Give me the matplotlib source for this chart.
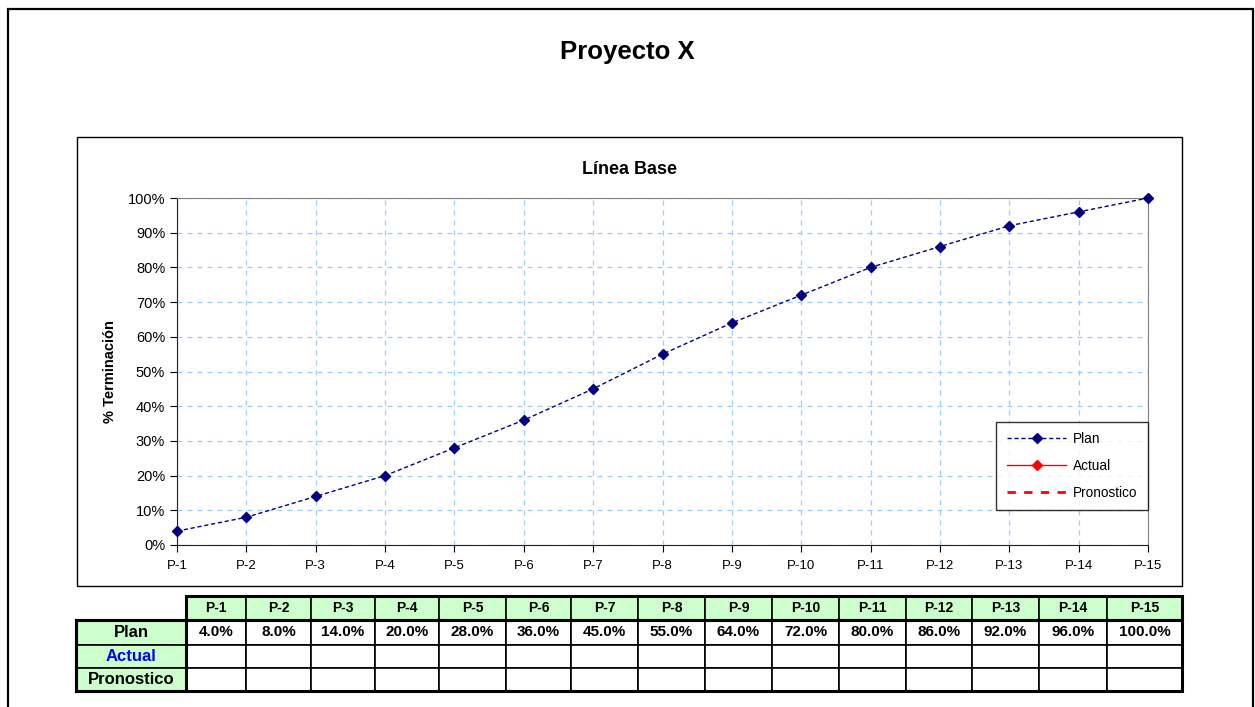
import matplotlib.pyplot as plt
from matplotlib.patches import Rectangle
from matplotlib.lines import Line2D
import matplotlib.ticker as mticker

plt.rcParams['font.family'] = ['Liberation Sans', 'DejaVu Sans']

periods = ["P-1", "P-2", "P-3", "P-4", "P-5", "P-6", "P-7", "P-8",
           "P-9", "P-10", "P-11", "P-12", "P-13", "P-14", "P-15"]
plan = [4.0, 8.0, 14.0, 20.0, 28.0, 36.0, 45.0, 55.0,
        64.0, 72.0, 80.0, 86.0, 92.0, 96.0, 100.0]
actual = []
pronostico = []
row_labels = ["Plan", "Actual", "Pronostico"]

W, H = 1255, 707
fig = plt.figure(figsize=(W / 100, H / 100), dpi=100)


def fx(x):
    return x / W


def fy(y):
    return 1 - y / H


def box(x0, y0, x1, y1, **kw):
    fig.patches.append(Rectangle((fx(x0), fy(y1)), fx(x1) - fx(x0), fy(y0) - fy(y1),
                                 transform=fig.transFigure, **kw))


# outer frame and chart frame
box(8, 9, 1253, 720, fill=False, ec="black", lw=1.6)
box(77, 137, 1182, 586, fill=False, ec="black", lw=1.0)

fig.text(fx(627), fy(52), "Proyecto X", ha="center", va="center",
         fontsize=18.5, fontweight="bold")
fig.text(fx(629), fy(170), "Línea Base", ha="center", va="center",
         fontsize=13, fontweight="bold")

ax = fig.add_axes([fx(177), fy(545), fx(1148) - fx(177), fy(198) - fy(545)])
x = list(range(len(periods)))
ax.plot(x, plan, color="#000080", ls=(0, (3, 2)), lw=1.0, marker="D",
        ms=5.5, clip_on=False, zorder=5)
ax.set_xlim(0, len(periods) - 1)
ax.set_ylim(0, 100)
ax.set_xticks(x)
ax.set_xticklabels(periods, fontsize=9.5)
ax.set_yticks(range(0, 101, 10))
ax.yaxis.set_major_formatter(mticker.FuncFormatter(lambda v, p: f"{v:.0f}%"))
ax.tick_params(axis="y", labelsize=10.5, length=5, direction="out")
ax.tick_params(axis="x", length=5, direction="out", pad=6)
ax.grid(True, color="#99ccff", ls=(0, (4, 4)), lw=0.9)
for s in ["top", "right"]:
    ax.spines[s].set_color("#808080")
for s in ["left", "bottom"]:
    ax.spines[s].set_color("#202020")
ax.set_ylabel("% Terminación", fontsize=10.5, fontweight="bold", labelpad=8)

handles = [
    Line2D([], [], color="#000080", ls=(0, (3, 2)), lw=1.0, marker="D", ms=5),
    Line2D([], [], color="red", ls="-", lw=1.0, marker="D", ms=5),
    Line2D([], [], color="red", ls=(0, (3, 3)), lw=2.0),
]
ax.plot(actual, actual, color="red", marker="D")
ax.plot(pronostico, pronostico, color="red", ls="--")
leg = ax.legend(handles, ["Plan", "Actual", "Pronostico"], loc="lower right",
                bbox_to_anchor=(1.0, 0.10), borderaxespad=0, fontsize=9.8,
                frameon=True, fancybox=False, edgecolor="black",
                labelspacing=0.95, handlelength=4.4, borderpad=0.75,
                handletextpad=0.5)
leg.get_frame().set_linewidth(1.0)

# data table below the chart
col_edges = [186, 246, 311, 375, 439, 506, 571, 638, 705, 772,
             839, 906, 972, 1039, 1107, 1182]
row_edges = [596, 620, 645, 668, 691]
label_left = 76
green = "#ccffcc"

for i, p in enumerate(periods):
    x0, x1 = col_edges[i], col_edges[i + 1]
    box(x0, row_edges[0], x1, row_edges[1], fc=green, ec="black", lw=1.2)
    fig.text(fx((x0 + x1) / 2), fy((row_edges[0] + row_edges[1]) / 2), p,
             ha="center", va="center", fontsize=10, fontweight="bold")
    for r in range(3):
        box(x0, row_edges[r + 1], x1, row_edges[r + 2], fc="white", ec="black", lw=1.2)
    fig.text(fx((x0 + x1) / 2), fy((row_edges[1] + row_edges[2]) / 2),
             f"{plan[i]:.1f}%", ha="center", va="center", fontsize=11,
             fontweight="bold")

label_colors = ["black", "#0000ff", "black"]
for r, lab in enumerate(row_labels):
    y0, y1 = row_edges[r + 1], row_edges[r + 2]
    box(label_left, y0, col_edges[0], y1, fc=green, ec="black", lw=1.2)
    fig.text(fx((label_left + col_edges[0]) / 2), fy((y0 + y1) / 2), lab,
             ha="center", va="center", fontsize=12, fontweight="bold",
             color=label_colors[r])

# thick outlines
box(col_edges[0], row_edges[0], col_edges[-1], row_edges[1], fill=False, ec="black", lw=2.2)
box(label_left, row_edges[1], col_edges[-1], row_edges[-1], fill=False, ec="black", lw=2.2)
box(label_left, row_edges[1], col_edges[0], row_edges[-1], fill=False, ec="black", lw=2.2)

fig.savefig("out.png", dpi=100)
